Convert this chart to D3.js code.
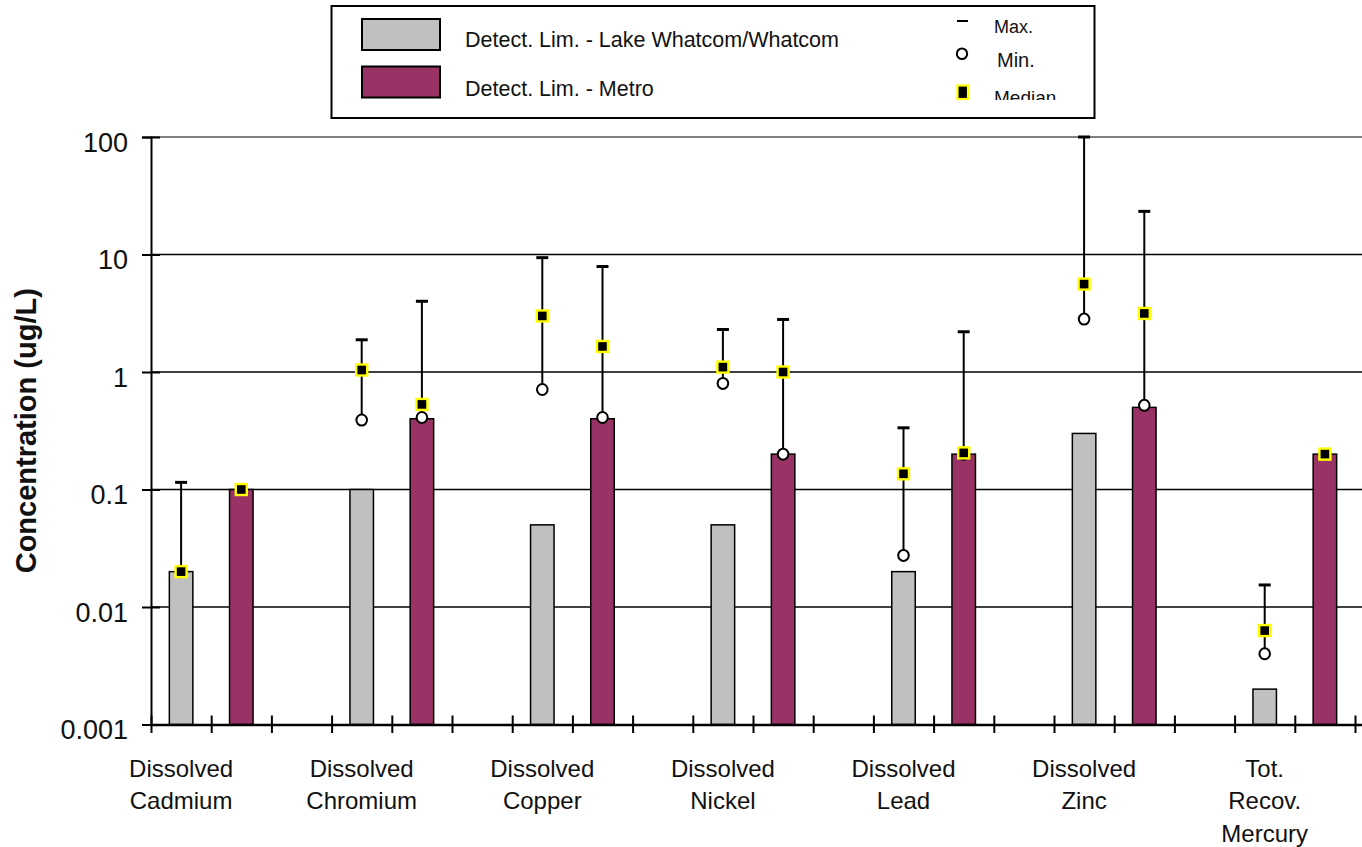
<!DOCTYPE html>
<html>
<head>
<meta charset="utf-8">
<script src="https://cdn.jsdelivr.net/npm/d3@7"></script>
<style>
  html, body { margin: 0; padding: 0; background: #fff; }
  svg { display: block; font-family: "Liberation Sans", Arial, Helvetica, sans-serif; }
</style>
</head>
<body>
<svg id="chart" width="1362" height="847"></svg>
<script>
// Analytes along the category axis (label lines for each)
const analyteIds = ["Cadmium", "Chromium", "Copper", "Nickel", "Lead", "Zinc", "Mercury"];
const analyteLabels = [
  ["Dissolved", "Cadmium"],
  ["Dissolved", "Chromium"],
  ["Dissolved", "Copper"],
  ["Dissolved", "Nickel"],
  ["Dissolved", "Lead"],
  ["Dissolved", "Zinc"],
  ["Tot.", "Recov.", "Mercury"]
];

// Detection limits (ug/L)
const detLimLakeWhatcom = [0.02, 0.1, 0.05, 0.05, 0.02, 0.3, 0.002];
const detLimMetro       = [0.1, 0.4, 0.4, 0.2, 0.2, 0.5, 0.2];

// Observed concentrations (ug/L): Lake Whatcom / Whatcom
const maxLakeWhatcom = [0.115, 1.88, 9.4, 2.3, 0.335, 100, 0.0154];
const medLakeWhatcom = [0.02, 1.04, 3.0, 1.1, 0.136, 5.6, 0.0063];
const minLakeWhatcom = [0.02, 0.39, 0.71, 0.80, 0.0275, 2.82, 0.0040];

// Observed concentrations (ug/L): Metro
const maxMetro = [0.1, 4.0, 7.9, 2.8, 2.2, 23.3, 0.2];
const medMetro = [0.1, 0.53, 1.65, 1.0, 0.205, 3.15, 0.2];
const minMetro = [0.1, 0.41, 0.41, 0.2, 0.2, 0.52, 0.2];

// Value axis
const yTickValues = [0.001, 0.01, 0.1, 1, 10, 100];
const yTickLabels = ["0.001", "0.01", "0.1", "1", "10", "100"];
const yTitle = "Concentration (ug/L)";

// Legend entries
const legendSeries = ["Detect. Lim. - Lake Whatcom/Whatcom", "Detect. Lim. - Metro"];
const legendMarkers = ["Max.", "Min.", "Median"];

const colorLW = "#C0C0C0";
const colorMetro = "#993366";

const W = 1362, H = 847;
const plotLeft = 151, plotTop = 137, plotBottom = 724.5;
const slotW = 60.2;
const barW = 23.5;

const svg = d3.select("#chart");
svg.append("rect").attr("width", W).attr("height", H).attr("fill", "#fff");

// Three slots per analyte: Lake Whatcom, Metro, spacer
const slots = analyteIds.flatMap(id => [id + "|lw", id + "|metro", id + "|gap"]);
const x = d3.scaleBand().domain(slots).range([plotLeft, plotLeft + slots.length * slotW]).padding(0);
const xEdge = d3.scaleLinear().domain([0, slots.length]).range([plotLeft, plotLeft + slots.length * slotW]);
const y = d3.scaleLog().domain([0.001, 100]).range([plotBottom, plotTop]);

const cx = key => x(key) + x.bandwidth() / 2;

// Horizontal gridlines
svg.append("g").selectAll("line")
  .data(yTickValues.filter(v => v > 0.001))
  .join("line")
  .attr("x1", plotLeft).attr("x2", W)
  .attr("y1", d => y(d)).attr("y2", d => y(d))
  .attr("stroke", d => d === 100 ? "#808080" : "#000")
  .attr("stroke-width", d => d === 100 ? 2 : 1.3);

// Detection-limit bars
const bars = svg.append("g");
analyteIds.forEach((id, i) => {
  [[id + "|lw", detLimLakeWhatcom[i], colorLW], [id + "|metro", detLimMetro[i], colorMetro]].forEach(([k, v, c]) => {
    bars.append("rect")
      .attr("x", cx(k) - barW / 2)
      .attr("width", barW)
      .attr("y", y(v))
      .attr("height", y(0.001) - y(v))
      .attr("fill", c)
      .attr("stroke", "#000")
      .attr("stroke-width", 1.5);
  });
});

// Y axis with crossing ticks
const yAxis = svg.append("g")
  .attr("transform", `translate(${plotLeft},0)`)
  .call(d3.axisLeft(y).tickValues(yTickValues).tickFormat((d, i) => yTickLabels[i]).tickSize(9).tickPadding(14));
yAxis.select(".domain").attr("stroke", "#000").attr("stroke-width", 2);
yAxis.selectAll(".tick line").attr("x1", -9).attr("x2", 9).attr("stroke", "#000").attr("stroke-width", 2);
yAxis.selectAll(".tick text")
  .attr("font-size", 27).attr("fill", "#111").attr("font-family", "'Liberation Sans', Arial, sans-serif")
  .attr("dy", "0.71em").attr("y", -5);

// X axis: tick at every slot boundary
const xAxis = svg.append("g")
  .attr("transform", `translate(0,${plotBottom})`)
  .call(d3.axisBottom(xEdge).tickValues(d3.range(0, slots.length + 1)).tickFormat("").tickSize(8).tickSizeOuter(0));
xAxis.select(".domain").attr("stroke", "#000").attr("stroke-width", 2.5);
xAxis.selectAll(".tick line").attr("y1", -9).attr("y2", 8.5).attr("stroke", "#000").attr("stroke-width", 2);

// Category labels, centred under the Lake Whatcom slot
const catLabels = svg.append("g").attr("font-size", 24).attr("fill", "#111").attr("text-anchor", "middle");
analyteIds.forEach((id, i) => {
  const t = catLabels.append("text").attr("x", cx(id + "|lw")).attr("y", 777);
  analyteLabels[i].forEach((line, j) => {
    t.append("tspan").attr("x", cx(id + "|lw")).attr("dy", j === 0 ? 0 : 32.3).text(line);
  });
});

// Y axis title
svg.append("text")
  .attr("transform", `translate(36,${(plotTop + plotBottom) / 2}) rotate(-90)`)
  .attr("text-anchor", "middle")
  .attr("font-size", 29).attr("font-weight", "bold").attr("fill", "#111")
  .text(yTitle);

// Range markers: vertical line max→min, max dash, min circle, median square
function drawRange(g, px, vMax, vMin, vMed) {
  if (vMax !== vMin) {
    g.append("line").attr("x1", px).attr("x2", px)
      .attr("y1", y(vMax)).attr("y2", y(vMin))
      .attr("stroke", "#000").attr("stroke-width", 2);
  }
  g.append("line").attr("x1", px - 6).attr("x2", px + 6)
    .attr("y1", y(vMax)).attr("y2", y(vMax))
    .attr("stroke", "#000").attr("stroke-width", 3);
  g.append("ellipse").attr("cx", px).attr("cy", y(vMin)).attr("rx", 5.3).attr("ry", 5.5)
    .attr("fill", "#fff").attr("stroke", "#000").attr("stroke-width", 2);
  g.append("rect").attr("x", px - 5.5).attr("y", y(vMed) - 5.5).attr("width", 11).attr("height", 11)
    .attr("fill", "#000").attr("stroke", "#FFFF00").attr("stroke-width", 2.4);
}
const ranges = svg.append("g");
analyteIds.forEach((id, i) => {
  drawRange(ranges, cx(id + "|lw"), maxLakeWhatcom[i], minLakeWhatcom[i], medLakeWhatcom[i]);
  drawRange(ranges, cx(id + "|metro"), maxMetro[i], minMetro[i], medMetro[i]);
});

// Legend
const legend = svg.append("g");
legend.append("rect").attr("x", 331.5).attr("y", 6).attr("width", 763).attr("height", 112)
  .attr("fill", "#fff").attr("stroke", "#000").attr("stroke-width", 2);
svg.append("clipPath").attr("id", "legendClip")
  .append("rect").attr("x", 331).attr("y", 6).attr("width", 764).attr("height", 94);
const swatchColors = [colorLW, colorMetro];
const swatchY = [19, 66.5];
const textY = [47, 96];
legendSeries.forEach((s, i) => {
  legend.append("rect").attr("x", 362).attr("y", swatchY[i]).attr("width", 78).attr("height", 31)
    .attr("fill", swatchColors[i]).attr("stroke", "#000").attr("stroke-width", 2);
  legend.append("text").attr("x", 465).attr("y", textY[i]).attr("font-size", 21.5).attr("fill", "#111")
    .attr("clip-path", "url(#legendClip)").text(s);
});
legend.append("line").attr("x1", 957).attr("x2", 968).attr("y1", 21).attr("y2", 21)
  .attr("stroke", "#000").attr("stroke-width", 2);
legend.append("ellipse").attr("cx", 962).attr("cy", 53.8).attr("rx", 5.2).attr("ry", 5.3)
  .attr("fill", "#fff").attr("stroke", "#000").attr("stroke-width", 2);
legend.append("rect").attr("x", 957.5).attr("y", 85.5).attr("width", 10.5).attr("height", 13.5)
  .attr("fill", "#000").attr("stroke", "#FFFF00").attr("stroke-width", 2.2);
const markerTextX = [994, 997, 994];
const markerTextY = [32.5, 67, 104];
const markerTextSize = [18, 20, 19];
legendMarkers.forEach((m, i) => {
  legend.append("text").attr("x", markerTextX[i]).attr("y", markerTextY[i])
    .attr("font-size", markerTextSize[i]).attr("fill", "#111")
    .attr("clip-path", "url(#legendClip)").text(m);
});
</script>
</body>
</html>
